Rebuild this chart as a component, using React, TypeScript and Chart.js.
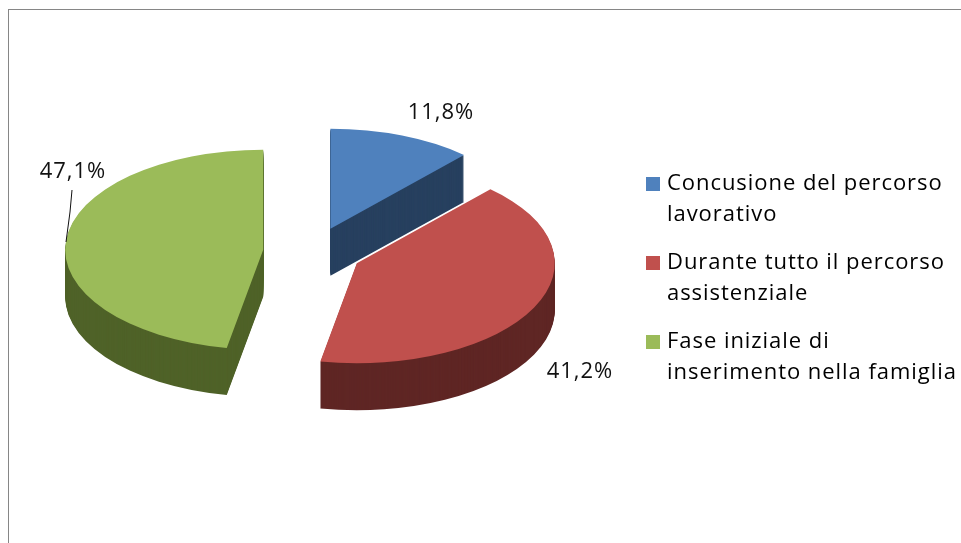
import React, { useEffect, useRef } from "react";
import { Chart, registerables } from "chart.js";

Chart.register(...registerables);

const categories = ["Concusione del percorso lavorativo", "Durante tutto il percorso assistenziale", "Fase iniziale di inserimento nella famiglia"];
const legendLines = [["Concusione del percorso", "lavorativo"], ["Durante tutto il percorso", "assistenziale"], ["Fase iniziale di", "inserimento nella famiglia"]];
const shares = [11.8, 41.2, 47.1];
const topColors = ["#4f81bd", "#c0504d", "#9bbb59"];
const sideColors = ["#27405f", "#5f2624", "#4f6228"];
const pctLabelAnchors = [[441, 113], [580, 372], [73, 172]];

const FONT = "'Open Sans'";
const SQUASH = 100 / 198;
const DEPTH = 47;
const EXPLODE = 49.5;
const SPACING = "0.95px";

const pie3d = {
  id: "pie3d",
  afterLayout(chart: any) {
    const lg = chart.legend;
    const h = lg.height;
    lg.left = 633; lg.top = 156; lg.right = 961; lg.width = 328; lg.bottom = 156 + h;
  },
  beforeDraw(chart: any) {
    (chart.ctx as any).letterSpacing = SPACING;
  },
  beforeDatasetDraw(chart: any, args: any) {
    const ctx = chart.ctx;
    const arcs = args.meta.data;
    const draw = (arc: any, dy: number, color: string) => {
      const mid = (arc.startAngle + arc.endAngle) / 2;
      const saved = arc.options;
      arc.options = { backgroundColor: color, borderColor: color, borderWidth: 0, offset: 0, spacing: 0, circular: true, borderAlign: "center", borderRadius: 0 };
      ctx.save();
      ctx.translate(arc.x, arc.y + dy);
      ctx.scale(1, SQUASH);
      ctx.translate(Math.cos(mid) * EXPLODE - arc.x, Math.sin(mid) * EXPLODE - arc.y);
      arc.draw(ctx);
      ctx.restore();
      arc.options = saved;
    };
    arcs.forEach((arc: any, i: number) => {
      for (let d = DEPTH; d > 0; d--) draw(arc, d, sideColors[i]);
      draw(arc, 0, topColors[i]);
    });
    return false;
  },
  afterDatasetsDraw(chart: any) {
    const ctx = chart.ctx;
    ctx.save();
    ctx.fillStyle = "#111111";
    ctx.font = `22px ${FONT}`;
    ctx.textAlign = "center";
    ctx.textBaseline = "middle";
    shares.forEach((v, i) => {
      ctx.fillText(v.toFixed(1).replace(".", ",") + "%", pctLabelAnchors[i][0], pctLabelAnchors[i][1]);
    });
    ctx.strokeStyle = "#111111";
    ctx.lineWidth = 1;
    ctx.beginPath();
    ctx.moveTo(72, 190);
    ctx.lineTo(70, 212);
    ctx.lineTo(66, 242);
    ctx.stroke();
    ctx.restore();
  },
};

export default function App() {
  const ref = useRef<HTMLCanvasElement>(null);
  useEffect(() => {
    const chart = new Chart(ref.current!, {
      type: "pie",
      data: {
        labels: categories,
        datasets: [{ data: shares, backgroundColor: topColors, borderWidth: 0 }],
      },
      options: {
        animation: false,
        responsive: false,
        radius: 198,
        layout: { padding: { left: 0, top: 0, right: 336, bottom: 39 } },
        plugins: {
          tooltip: { enabled: false },
          legend: {
            position: "chartArea",
            align: "start",
            labels: {
              boxWidth: 6,
              boxHeight: 6,
              padding: 17,
              color: "#111111",
              font: { family: "Open Sans", size: 22, lineHeight: 31 / 22 },
              generateLabels: () =>
                legendLines.map((text, i) => ({ text, fillStyle: topColors[i], strokeStyle: topColors[i], lineWidth: 8, index: i, hidden: false })),
            },
          },
        },
      } as any,
      plugins: [pie3d],
    } as any);
    return () => chart.destroy();
  }, []);
  return (
    <div style={{ position: "fixed", left: 0, top: 0, width: 961, height: 543, background: "#fff", overflow: "hidden" }}>
      <canvas ref={ref} width={961} height={543} style={{ position: "absolute", left: 0, top: 0, display: "block" }} />
      <div style={{ position: "absolute", left: 8, top: 9, width: 953, height: 1, background: "#868686" }} />
      <div style={{ position: "absolute", left: 8, top: 9, width: 1, height: 534, background: "#868686" }} />
    </div>
  );
}
